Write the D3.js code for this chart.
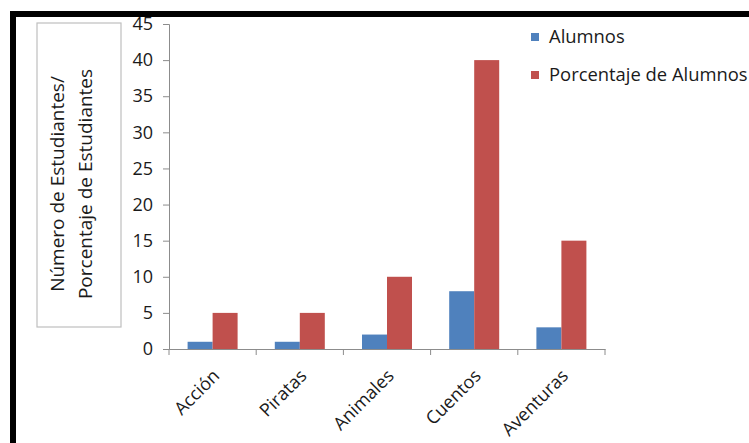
<!DOCTYPE html>
<html><head><meta charset="utf-8">
<script src="https://cdn.jsdelivr.net/npm/d3@7"></script>
<style>body{margin:0;background:#fff;}svg{display:block;}</style>
</head><body>
<script>
const categories = ["Acción","Piratas","Animales","Cuentos","Aventuras"];
const alumnos = [1,1,2,8,3];
const porcentaje = [5,5,10,40,15];
const seriesNames = ["Alumnos","Porcentaje de Alumnos"];
const yTicks = [0,5,10,15,20,25,30,35,40,45];
const colors = ["#4F81BD","#C0504D"];

const W=749,H=443;
const svg=d3.select("body").append("svg").attr("width",W).attr("height",H);
svg.append("rect").attr("width",W).attr("height",H).attr("fill","#fff");
// frame
svg.append("rect").attr("x",10).attr("y",11).attr("width",W-10).attr("height",6).attr("fill","#000");
svg.append("rect").attr("x",10).attr("y",11).attr("width",6).attr("height",H-11).attr("fill","#000");

const font="'Open Sans', sans-serif";
const txt="#1a1a1a";
const x0=d3.scaleBand().domain(categories).range([169,605]).paddingInner(0).paddingOuter(0);
const y=d3.scaleLinear().domain([0,45]).range([349,24]);
const x1=d3.scaleBand().domain(seriesNames).range([0,50]);
const off=(x0.bandwidth()-50)/2;

// y axis
const yAx=svg.append("g").attr("transform","translate(169,0)")
 .call(d3.axisLeft(y).tickValues(yTicks).tickSize(6).tickPadding(10));
yAx.select(".domain").attr("stroke","#8c8c8c");
yAx.selectAll(".tick line").attr("stroke","#8c8c8c");
yAx.selectAll("text").attr("font-family",font).attr("font-size",18).attr("font-weight",500).attr("fill",txt);

// bars
const data=categories.map((c,i)=>({c,vals:[alumnos[i],porcentaje[i]]}));
const g=svg.append("g");
data.forEach(d=>{
  d.vals.forEach((v,j)=>{
    g.append("rect").attr("x",x0(d.c)+off+x1(seriesNames[j])).attr("width",x1.bandwidth())
     .attr("y",y(v)).attr("height",y(0)-y(v)).attr("fill",colors[j]);
  });
});

// x axis
const xAx=svg.append("g").attr("transform","translate(0,349)")
 .call(d3.axisBottom(x0).tickSize(0).tickFormat(""));
xAx.select(".domain").attr("stroke","#8c8c8c");
const tickPos=categories.map(c=>x0(c)).concat([605]);
svg.append("g").selectAll("line").data(tickPos).join("line")
 .attr("x1",d=>d).attr("x2",d=>d).attr("y1",349).attr("y2",355).attr("stroke","#8c8c8c");
svg.append("g").selectAll("text").data(categories).join("text")
 .attr("transform",c=>`translate(${x0(c)+x0.bandwidth()/2+8},${377}) rotate(-45)`)
 .attr("text-anchor","end").attr("font-family",font).attr("font-size",18).attr("font-weight",500).attr("fill",txt)
 .text(c=>c);

// y label box
svg.append("rect").attr("x",37).attr("y",23).attr("width",84).attr("height",304)
 .attr("fill","#fff").attr("stroke","#bfbfbf").attr("stroke-width",1.2);
const ylab=["Número de Estudiantes/","Porcentaje de Estudiantes"];
svg.append("g").selectAll("text").data(ylab).join("text")
 .attr("transform",(d,i)=>`translate(${57+i*28},184) rotate(-90)`)
 .attr("text-anchor","middle").attr("dy","0.35em").attr("font-family",font).attr("font-size",19).attr("font-weight",500).attr("fill",txt)
 .text(d=>d);

// legend
seriesNames.forEach((s,i)=>{
  const ly=37+i*38;
  svg.append("rect").attr("x",531).attr("y",ly-4).attr("width",8).attr("height",8).attr("fill",colors[i]);
  svg.append("text").attr("x",549).attr("y",ly).attr("dy","0.35em").attr("font-family",font)
   .attr("font-size",18.4).attr("font-weight",500).attr("fill",txt).text(s);
});
</script>
</body></html>
